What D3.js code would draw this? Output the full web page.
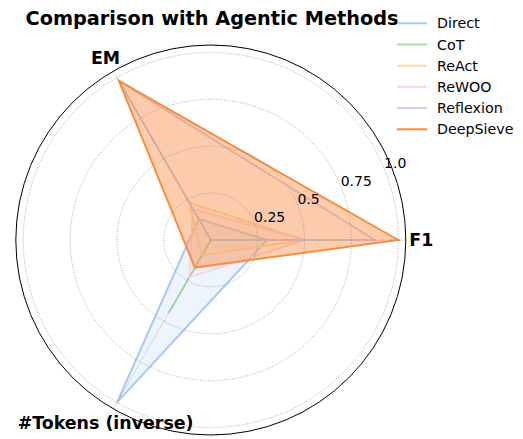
<!DOCTYPE html>
<html>
<head>
<meta charset="utf-8">
<script src="https://cdn.jsdelivr.net/npm/d3@7"></script>
<style>
  html, body { margin: 0; padding: 0; background: #fff; }
  svg { display: block; font-family: "DejaVu Sans", sans-serif; }
</style>
</head>
<body>
<svg id="chart" width="523" height="439"></svg>
<script>
// ---- data ----
const axesLabels = ["F1", "EM", "#Tokens (inverse)"];
const axisAnglesDeg = [0, 120, 240];
const methods = ["Direct", "CoT", "ReAct", "ReWOO", "Reflexion", "DeepSieve"];
const direct    = [0.30, 0.13, 1.00];
const cot       = [0.00, 0.00, 0.45];
const react     = [0.50, 0.23, 0.095];
const rewoo     = [0.50, 0.19, 0.23];
const reflexion = [0.875, 0.98, 0.00];
const deepsieve = [1.00, 0.98, 0.17];
const radialTicks = [0.25, 0.5, 0.75, 1.0];
const radialTickLabels = ["0.25", "0.5", "0.75", "1.0"];
const colors = ["#a6c8f6", "#a8dea8", "#fdd8a8", "#fad4df", "#cdcce4", "#fb8c3e"];
const fillOpacity = [0.2, 0.15, 0.15, 0.15, 0.08, 0.43];
const seriesValues = [direct, cot, react, rewoo, reflexion, deepsieve];

// ---- layout ----
const svg = d3.select("#chart");
const cx = 210.8, cy = 240;
const rOne = 187.5;          // pixel radius of value 1.0
const rMax = 1.04;           // radial limit
const r = d3.scaleLinear().domain([0, rMax]).range([0, rOne * rMax]);
const spineR = r(rMax);

const toD3 = deg => Math.PI / 2 - deg * Math.PI / 180;

const g = svg.append("g").attr("transform", `translate(${cx},${cy})`);

// series
const radial = d3.lineRadial()
  .angle((d, i) => toD3(axisAnglesDeg[i]))
  .radius(d => r(d))
  .curve(d3.curveLinearClosed);

const series = g.selectAll("g.series").data(seriesValues).enter().append("g").attr("class", "series");
series.append("path")
  .attr("d", d => radial(d))
  .attr("fill", (d, i) => colors[i])
  .attr("fill-opacity", (d, i) => fillOpacity[i])
  .attr("stroke", "none");
series.append("path")
  .attr("d", d => radial(d))
  .attr("fill", "none")
  .attr("stroke", (d, i) => colors[i])
  .attr("stroke-width", 2)
  .attr("stroke-linejoin", "miter");

// grid circles
g.selectAll("circle.grid").data(radialTicks).enter().append("circle")
  .attr("class", "grid")
  .attr("r", d => r(d))
  .attr("fill", "none")
  .attr("stroke", "#9a9a9a")
  .attr("stroke-width", 0.9)
  .attr("stroke-dasharray", "1,1.65");

// angular grid lines
g.selectAll("line.spoke").data(axisAnglesDeg).enter().append("line")
  .attr("class", "spoke")
  .attr("x1", 0).attr("y1", 0)
  .attr("x2", d => spineR * Math.cos(d * Math.PI / 180))
  .attr("y2", d => -spineR * Math.sin(d * Math.PI / 180))
  .attr("stroke", "#9a9a9a")
  .attr("stroke-width", 0.9)
  .attr("stroke-dasharray", "1,1.65");

// spine
g.append("circle").attr("r", spineR).attr("fill", "none")
  .attr("stroke", "#000").attr("stroke-width", 1);

// radial tick labels at 22.5 deg
const labelAng = 22.5 * Math.PI / 180;
g.selectAll("text.rtick").data(radialTicks).enter().append("text")
  .attr("class", "rtick")
  .attr("x", d => r(d) * Math.cos(labelAng))
  .attr("y", d => -r(d) * Math.sin(labelAng))
  .attr("font-size", 14)
  .attr("fill", "#000")
  .text((d, i) => radialTickLabels[i]);

// axis labels
const labR = 210.5;
g.selectAll("text.axlab").data(axesLabels).enter().append("text")
  .attr("class", "axlab")
  .attr("x", (d, i) => labR * Math.cos(axisAnglesDeg[i] * Math.PI / 180))
  .attr("y", (d, i) => -labR * Math.sin(axisAnglesDeg[i] * Math.PI / 180))
  .attr("text-anchor", "middle")
  .attr("dy", "0.36em")
  .attr("font-size", 17.4)
  .attr("font-weight", "bold")
  .text(d => d);

// title
svg.append("text")
  .attr("x", 212).attr("y", 25)
  .attr("text-anchor", "middle")
  .attr("font-size", 19.3)
  .attr("font-weight", "bold")
  .text("Comparison with Agentic Methods");

// legend
const leg = svg.append("g").attr("transform", "translate(397,23.3)");
const items = leg.selectAll("g").data(methods).enter().append("g")
  .attr("transform", (d, i) => `translate(0,${i * 21.2})`);
items.append("line").attr("x1", 0).attr("x2", 30).attr("y1", 0).attr("y2", 0)
  .attr("stroke", (d, i) => colors[i]).attr("stroke-width", 2);
items.append("text").attr("x", 40).attr("dy", "0.36em")
  .attr("font-size", 14.25).text(d => d);
</script>
</body>
</html>
